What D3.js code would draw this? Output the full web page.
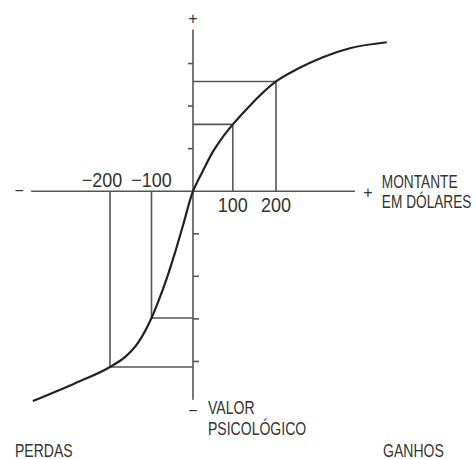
<!DOCTYPE html>
<html>
<head>
<meta charset="utf-8">
<script src="https://cdn.jsdelivr.net/npm/d3@7"></script>
<style>
  body { margin: 0; background: #fff; }
  text { font-family: "Liberation Sans", Arial, sans-serif; fill: #333; }
</style>
</head>
<body>
<div id="main"></div>
<script>
// dollars on x, psychological value (in tick units) on y
const curveDollars = [-386, -284, -200, -164, -133, -100, -84, -63, -43, -24, 0, 12, 26, 48, 70, 96, 133, 200, 251, 313, 378, 467];
const curveValues  = [-4.93, -4.51, -4.13, -3.90, -3.57, -2.98, -2.60, -2.04, -1.43, -0.80, 0, 0.25, 0.52, 0.93, 1.25, 1.57, 1.97, 2.58, 2.87, 3.15, 3.36, 3.50];

const markDollars = [-200, -100, 96, 200];
const markValues  = [-4.13, -2.98, 1.57, 2.58];
const markLabels  = ["\u2212200", "\u2212100", "100", "200"];

const valueTicks = [3, 2, 1, -1, -2, -3, -4];
const xAxisExtent = [-390, 390];
const yAxisExtent = [-4.9, 3.8];

// condensed look: draw text squeezed horizontally
function addText(g, x, y, str, size, squeeze, anchor) {
  return g.append("text")
    .attr("transform", `translate(${x},${y}) scale(${squeeze},1)`)
    .attr("font-size", size)
    .attr("text-anchor", anchor || "start")
    .text(str);
}

class ValueChart {
  constructor(config) {
    this.config = config;
    this.svg = null;
    this.xScale = null;
    this.yScale = null;
    this.createSvg();
  }

  createSvg() {
    this.svg = d3.select(this.config.div)
      .append("svg")
      .attr("width", this.config.width)
      .attr("height", this.config.height);
  }

  createScales() {
    this.xScale = d3.scaleLinear().domain([-400, 400]).range([27, 359]);
    this.yScale = d3.scaleLinear().domain([-5, 4]).range([404, 21]);
  }

  createAxis() {
    let x = this.xScale, y = this.yScale;
    let axes = this.svg.append("g").attr("stroke", "#555").attr("stroke-width", 1.6);

    axes.append("line")
      .attr("x1", x(xAxisExtent[0])).attr("x2", x(xAxisExtent[1]))
      .attr("y1", y(0)).attr("y2", y(0));

    axes.append("line")
      .attr("x1", x(0)).attr("x2", x(0))
      .attr("y1", y(yAxisExtent[0])).attr("y2", y(yAxisExtent[1]));

    // ticks on the value axis: left side above zero, right side below
    axes.selectAll(".vtick")
      .data(valueTicks)
      .join("line")
      .attr("x1", x(0))
      .attr("x2", d => d > 0 ? x(0) - 5 : x(0) + 6)
      .attr("y1", d => y(d))
      .attr("y2", d => y(d));

    // signs at the axis ends
    let signs = this.svg.append("g").attr("font-size", 16).attr("text-anchor", "middle");
    signs.append("text").attr("x", x(0)).attr("y", y(yAxisExtent[1]) - 6).text("+");
    signs.append("text").attr("x", x(0)).attr("y", y(yAxisExtent[0]) + 16).text("\u2212");
    signs.append("text").attr("x", x(xAxisExtent[0]) - 12).attr("y", y(0) + 5).text("\u2212");
    signs.append("text").attr("x", x(xAxisExtent[1]) + 13).attr("y", y(0) + 7).text("+");
  }

  createGuides() {
    let x = this.xScale, y = this.yScale;
    let g = this.svg.append("g").attr("stroke", "#555").attr("stroke-width", 1.6);
    let marks = markDollars.map((d, i) => ({ d: d, v: markValues[i], label: markLabels[i] }));

    g.selectAll(".vguide")
      .data(marks)
      .join("line")
      .attr("x1", m => x(m.d)).attr("x2", m => x(m.d))
      .attr("y1", y(0)).attr("y2", m => y(m.v));

    g.selectAll(".hguide")
      .data(marks)
      .join("line")
      .attr("x1", x(0)).attr("x2", m => x(m.d))
      .attr("y1", m => y(m.v)).attr("y2", m => y(m.v));

    let labels = this.svg.append("g");
    marks.forEach(m => {
      let lx = x(m.d) + (m.d === -200 ? -8 : 0);
      let ly = m.d < 0 ? y(0) - 4 : y(0) + 21;
      addText(labels, lx, ly, m.label, 20, 0.9, "middle");
    });
  }

  render() {
    let x = this.xScale, y = this.yScale;
    let pts = curveDollars.map((d, i) => [d, curveValues[i]]);
    let line = d3.line()
      .x(p => x(p[0]))
      .y(p => y(p[1]))
      .curve(d3.curveMonotoneX);

    this.svg.append("path")
      .datum(pts)
      .attr("fill", "none")
      .attr("stroke", "#222")
      .attr("stroke-width", 2.2)
      .attr("d", line);
  }

  createLabels() {
    let x = this.xScale, y = this.yScale;
    let lab = this.svg.append("g");
    addText(lab, x(xAxisExtent[1]) + 27, y(0) - 3, "MONTANTE", 18, 0.76);
    addText(lab, x(xAxisExtent[1]) + 27, y(0) + 17, "EM DÓLARES", 18, 0.76);
    addText(lab, x(0) + 15, y(yAxisExtent[0]) + 14, "VALOR", 18, 0.78);
    addText(lab, x(0) + 15, y(yAxisExtent[0]) + 35, "PSICOLÓGICO", 18, 0.78);
    addText(lab, 15, 457, "PERDAS", 18, 0.78);
    addText(lab, 383, 457, "GANHOS", 18, 0.78);
  }
}

function main() {
  let c = { div: "#main", width: 476, height: 459 };
  let app = new ValueChart(c);
  app.createScales();
  app.createAxis();
  app.createGuides();
  app.render();
  app.createLabels();
}

main();
</script>
</body>
</html>
